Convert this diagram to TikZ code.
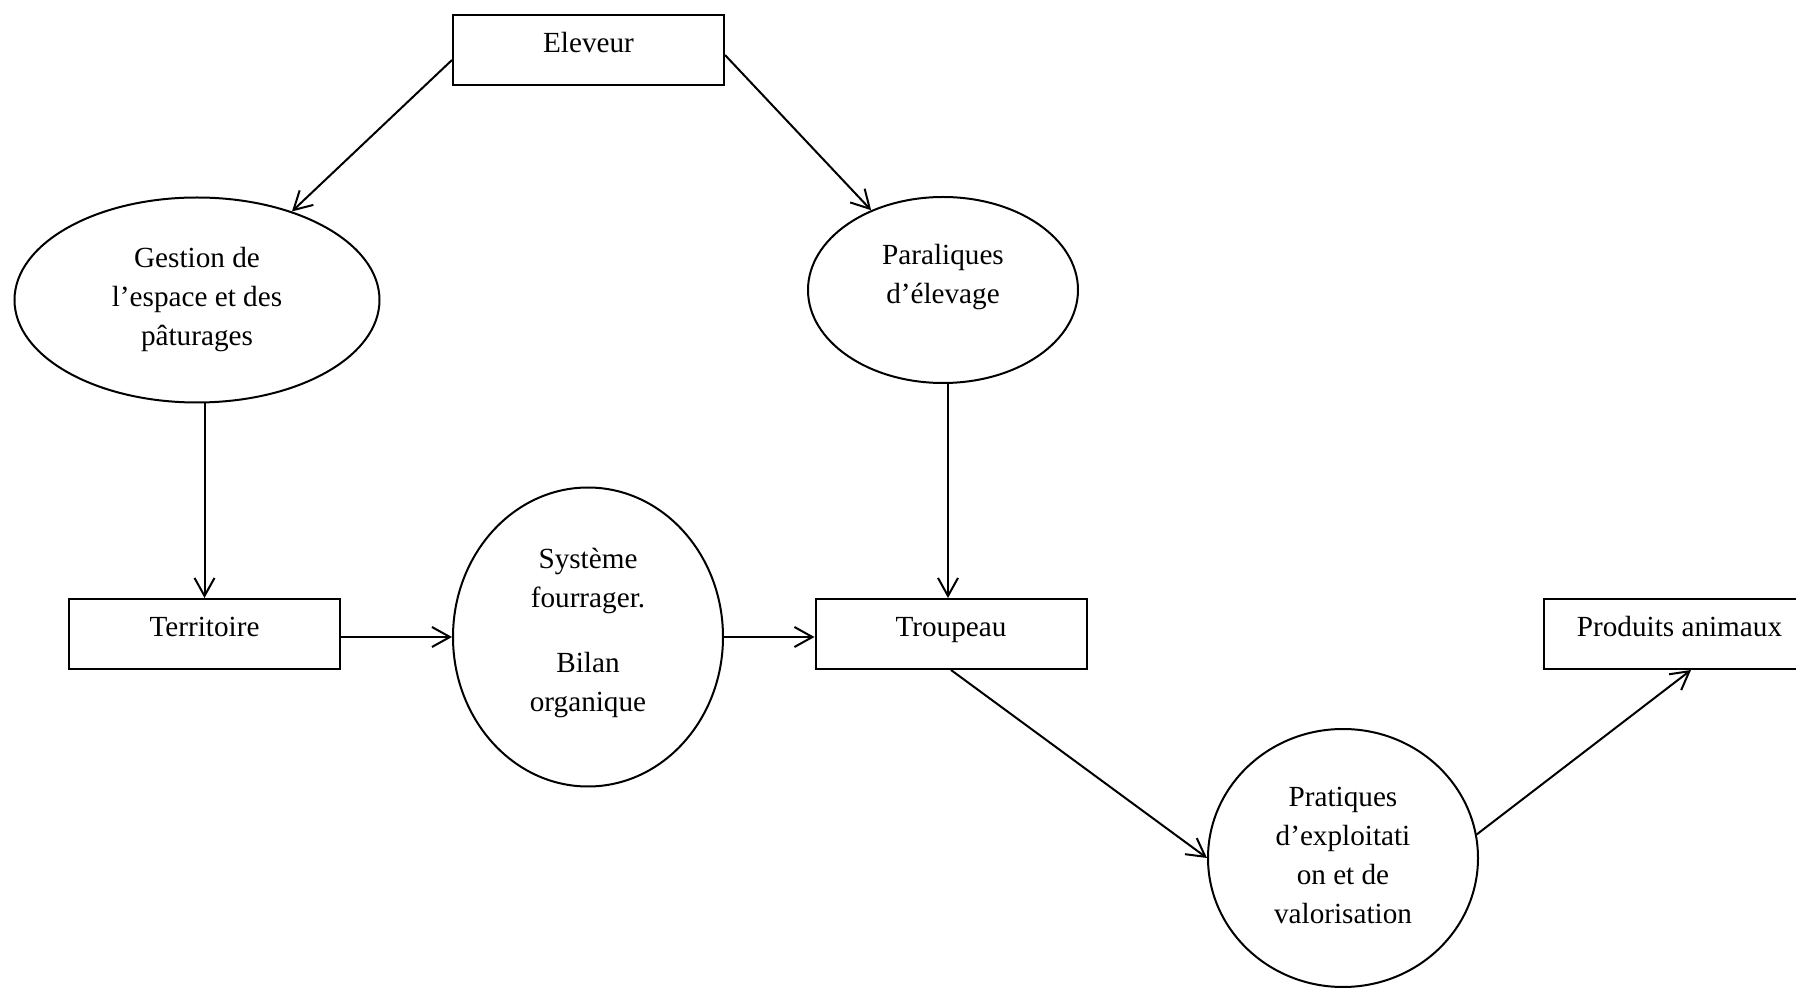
\documentclass[tikz,border=0pt]{standalone}
\usepackage{fontspec}
\setmainfont{Liberation Serif}
\usetikzlibrary{arrows.meta,shapes.geometric}
\begin{document}
\begin{tikzpicture}[x=0.5pt,y=-0.5pt,
  every node/.style={font=\fontsize{14.6pt}{19.5pt}\selectfont},
  box/.style={draw,line width=1pt,rectangle,minimum width=135.5pt,minimum height=35pt,
              inner sep=0pt,text height=13pt,text depth=10pt},
  oval/.style={draw,line width=1pt,ellipse,inner sep=0pt},
  txt/.style={align=center,inner sep=0pt},
  arr/.style={line width=1pt,-{Straight Barb[length=9pt,width=10pt]}}
]
\useasboundingbox (0,0) rectangle (1796,989);

% rectangular blocks
\node[box] (elev) at (588.5,50) {Eleveur};
\node[box] (terr) at (204.5,634) {Territoire};
\node[box] (trou) at (951,634) {Troupeau};
\node[box] (prod) at (1679.5,634) {Produits animaux};

% oval blocks and their texts
\node[oval,minimum width=182.5pt,minimum height=102.5pt] (gest) at (197,300) {};
\node[txt] (gestT) at (gest.center) {Gestion de\\l’espace et des\\pâturages};

\node[oval,minimum width=135pt,minimum height=93pt] (par) at (943,290) {};
\node[txt] (parT) at ([yshift=6.5pt]par.center) {Paraliques\\d’élevage};

\node[oval,minimum width=135pt,minimum height=149.5pt] (sys) at (588,637) {};
\node[txt] (sysT) at ([yshift=2pt]sys.center) {Système\\fourrager.\\[13pt]Bilan\\organique};

\node[oval,minimum width=135pt,minimum height=129pt] (prat) at (1343,858) {};
\node[txt] (pratT) at ([yshift=1.5pt]prat.center) {Pratiques\\d’exploitati\\on et de\\valorisation};

% connectors
\draw[arr] ([yshift=-5pt]elev.west) -- (gest.43);
\draw[arr] ([yshift=-2.5pt]elev.east) -- (par.132);
\draw[arr] (gest.south -| terr.north) -- (terr.north);
\draw[arr] ([xshift=2.5pt]par.south) -- ([xshift=-1.5pt]trou.north);
\draw[arr] ([yshift=-1.5pt]terr.east) -- (sys.west);
\draw[arr] (sys.east) -- (sys.east -| trou.west);
\draw[arr] (trou.south) -- (prat.west);
\draw[arr] (prat.10) -- ([xshift=5.75pt]prod.south);
\end{tikzpicture}
\end{document}
